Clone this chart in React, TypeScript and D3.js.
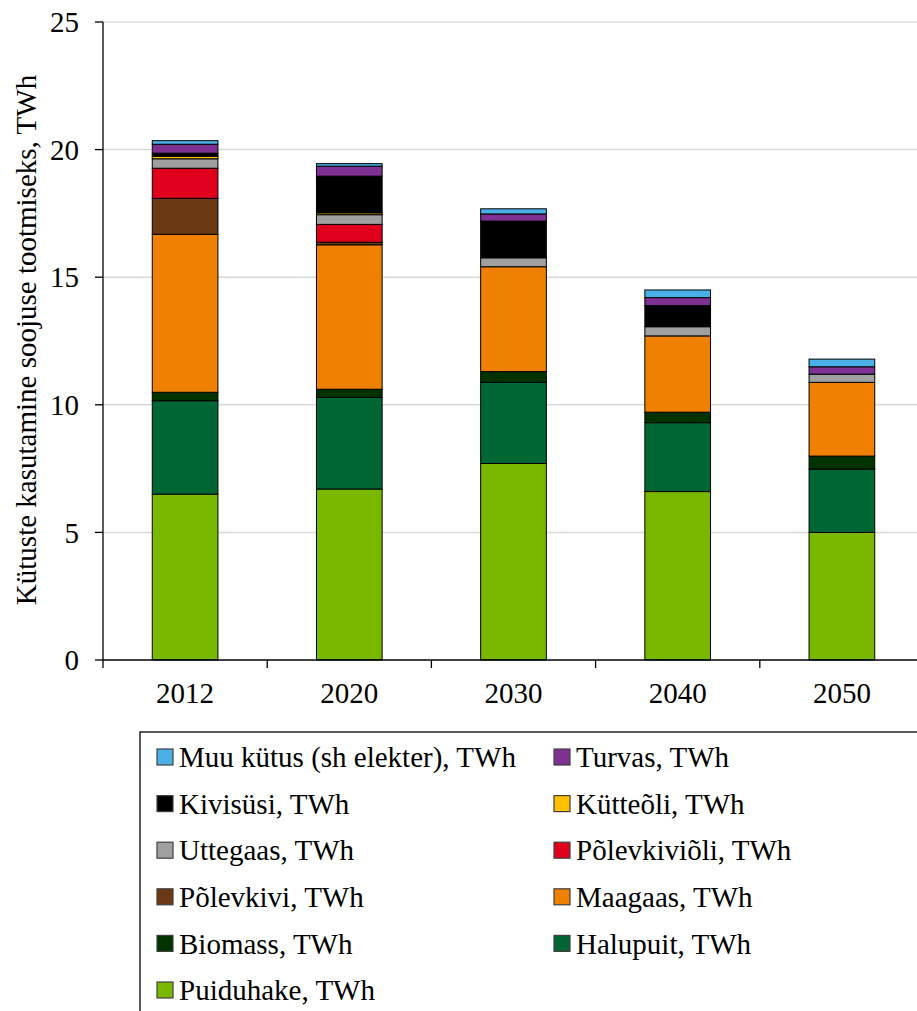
import React from "react";
import * as d3 from "d3";

const years = ["2012", "2020", "2030", "2040", "2050"];
const puiduhake = [6.5, 6.7, 7.7, 6.6, 5.0];
const halupuit = [3.66, 3.59, 3.18, 2.7, 2.48];
const biomass = [0.33, 0.32, 0.42, 0.41, 0.51];
const maagaas = [6.19, 5.66, 4.11, 2.99, 2.89];
const polevkivi = [1.41, 0.1, 0, 0, 0];
const polevkivioli = [1.18, 0.7, 0, 0, 0];
const uttegaas = [0.37, 0.38, 0.35, 0.36, 0.32];
const kutteoli = [0.1, 0.07, 0, 0, 0];
const kivisusi = [0.12, 1.44, 1.44, 0.83, 0];
const turvas = [0.35, 0.39, 0.28, 0.31, 0.29];
const muu = [0.14, 0.1, 0.2, 0.3, 0.3];
const yTicks = [0, 5, 10, 15, 20, 25];

const seriesNames = [
  "Puiduhake, TWh",
  "Halupuit, TWh",
  "Biomass, TWh",
  "Maagaas, TWh",
  "Põlevkivi, TWh",
  "Põlevkiviõli, TWh",
  "Uttegaas, TWh",
  "Kütteõli, TWh",
  "Kivisüsi, TWh",
  "Turvas, TWh",
  "Muu kütus (sh elekter), TWh",
];
const seriesValues = [puiduhake, halupuit, biomass, maagaas, polevkivi, polevkivioli, uttegaas, kutteoli, kivisusi, turvas, muu];
const seriesColors = [
  "#7AB800",
  "#006633",
  "#003300",
  "#F08000",
  "#6B3A14",
  "#E0001B",
  "#A0A0A0",
  "#FFC000",
  "#000000",
  "#7E3192",
  "#4BAFE8",
];
// legend order (reading order)
const legendOrder = [10, 9, 8, 7, 6, 5, 4, 3, 2, 1, 0];

const W = 917;
const H = 1011;
const left = 103;
const right = 924;
const top = 22;
const bottom = 660;
const font = '"Liberation Serif", Tinos, "Times New Roman", Times, serif';
const fs = 29;

export default function App() {
  const x = d3.scaleBand<string>().domain(years).range([left, right]).padding(0);
  const y = d3.scaleLinear().domain([0, 25]).range([bottom, top]);
  const bw = x.bandwidth() * 0.4;

  const table = years.map((yr, i) => {
    const row: any = { year: yr };
    seriesNames.forEach((n, k) => (row[n] = seriesValues[k][i]));
    return row;
  });
  const stack = d3.stack<any>().keys(seriesNames)(table);

  const legTop = 732;
  const rowH = 46.6;
  const col1 = 157;
  const col2 = 554;

  return (
    <svg width={W} height={H} style={{ position: "absolute", left: 0, top: 0, background: "#fff", fontFamily: font }}>
      <rect x={0} y={0} width={W} height={H} fill="#fff" />
      {yTicks.slice(1).map((t) => (
        <line key={"g" + t} x1={left} x2={W} y1={y(t)} y2={y(t)} stroke="#d9d9d9" strokeWidth={1.5} />
      ))}
      {stack.map((s, k) =>
        s.map((d, i) =>
          d[1] - d[0] > 0 ? (
            <rect
              key={k + "-" + i}
              x={(x(years[i]) as number) + (x.bandwidth() - bw) / 2}
              y={y(d[1])}
              width={bw}
              height={y(d[0]) - y(d[1])}
              fill={seriesColors[k]}
              stroke="#000"
              strokeWidth={1}
            />
          ) : null
        )
      )}
      <line x1={left} x2={left} y1={top} y2={bottom} stroke="#000" strokeWidth={1.3} />
      <line x1={left} x2={W} y1={bottom} y2={bottom} stroke="#000" strokeWidth={1.3} />
      {yTicks.map((t) => (
        <g key={"t" + t}>
          <line x1={left - 8} x2={left} y1={y(t)} y2={y(t)} stroke="#000" strokeWidth={1.3} />
          <text x={79} y={y(t)} dy="0.35em" textAnchor="end" fontSize={fs}>
            {t}
          </text>
        </g>
      ))}
      {years.map((yr, i) => (
        <line
          key={"xt" + i}
          x1={x(yr) as number}
          x2={x(yr) as number}
          y1={bottom}
          y2={bottom + 8}
          stroke="#000"
          strokeWidth={1.3}
        />
      ))}
      {years.map((yr) => (
        <text key={"xl" + yr} x={(x(yr) as number) + x.bandwidth() / 2} y={703} textAnchor="middle" fontSize={fs}>
          {yr}
        </text>
      ))}
      <text transform={`translate(36,340) rotate(-90)`} textAnchor="middle" fontSize={fs}>
        Kütuste kasutamine soojuse tootmiseks, TWh
      </text>
      <rect x={140} y={legTop} width={W} height={H} fill="none" stroke="#000" strokeWidth={1.3} />
      {legendOrder.map((k, j) => {
        const col = j % 2;
        const row = Math.floor(j / 2);
        const cy = legTop + 25 + row * rowH;
        const sx = col === 0 ? col1 : col2;
        return (
          <g key={"l" + k}>
            <rect x={sx} y={cy - 8} width={16} height={16} fill={seriesColors[k]} stroke="#404040" strokeWidth={1.2} />
            <text x={sx + 22} y={cy} dy="0.35em" fontSize={fs}>
              {seriesNames[k]}
            </text>
          </g>
        );
      })}
    </svg>
  );
}
